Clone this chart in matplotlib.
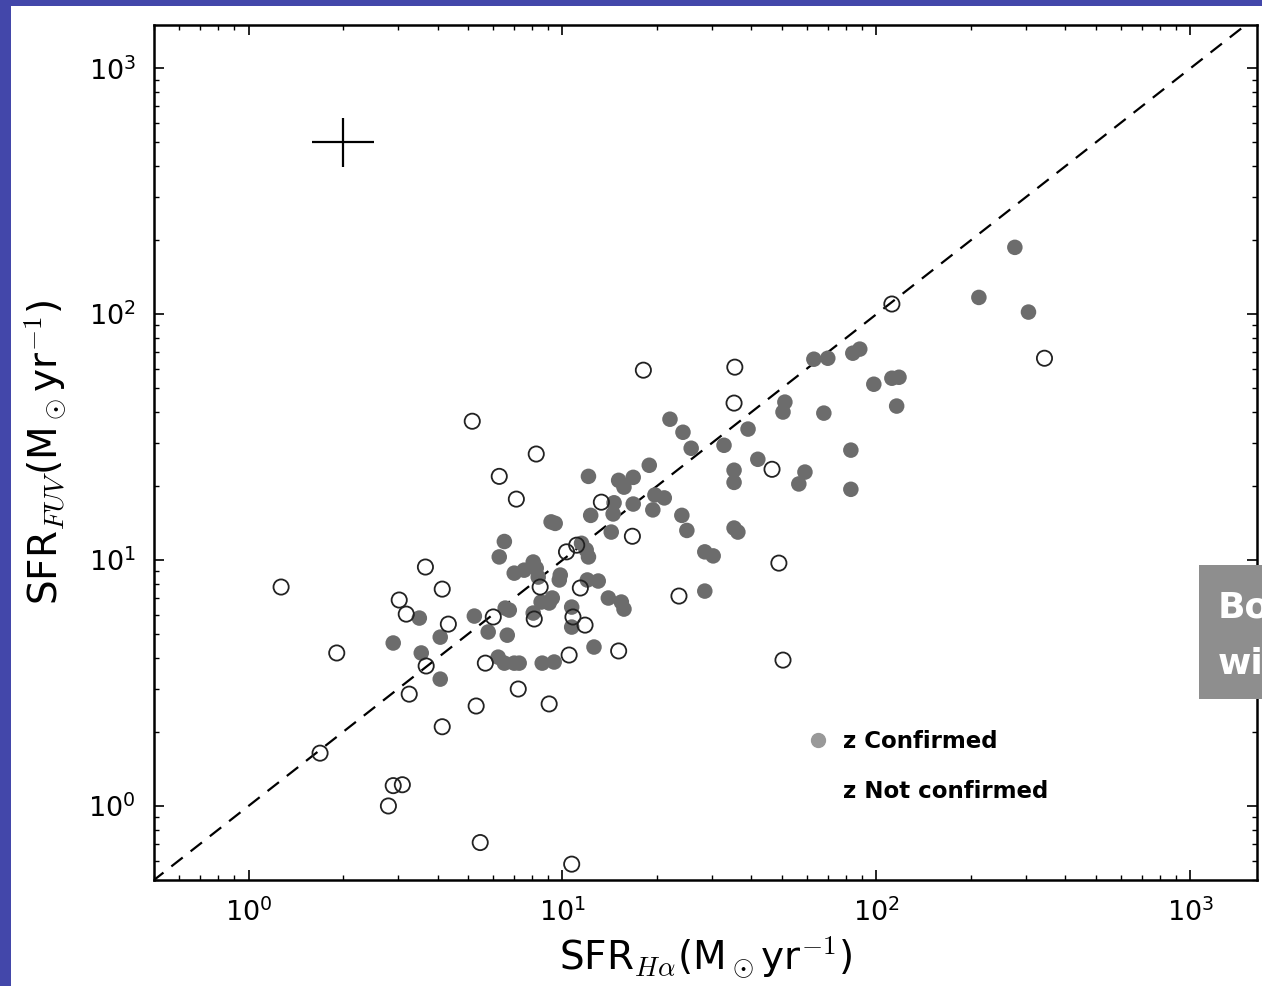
import matplotlib
matplotlib.use("Agg")
import matplotlib.pyplot as plt
from matplotlib.patches import Rectangle
from matplotlib.lines import Line2D

# SFR(H alpha) vs SFR(FUV)
# z confirmed (filled grey)
conf_x = [276, 212, 305, 63.2, 70.0, 84.1, 88.5, 98.1, 112, 118, 116, 51.1, 50.4, 68.0,
          39.0, 32.7, 22.0, 24.2, 25.7, 18.9, 41.9, 35.2, 35.2, 59.2, 56.6, 82.9, 82.9,
          15.1, 16.8, 15.7, 19.7, 21.1, 19.4, 16.8, 14.6, 14.5, 14.3, 24.0, 24.9, 35.2,
          36.2, 12.1, 12.3, 9.20, 9.48, 28.4, 30.2, 28.4, 6.53, 6.29, 11.5, 11.9, 12.1,
          8.07, 7.02, 7.55, 8.25, 8.37, 9.77, 9.84, 12.0, 13.0, 14.0, 15.4, 15.7, 9.28,
          8.55, 9.07, 8.07, 10.7, 10.7, 6.77, 5.24, 6.57, 5.80, 6.67, 4.08, 3.50, 2.89,
          3.55, 4.08, 6.24, 6.53, 7.02, 7.28, 8.62, 9.41, 12.6]
conf_y = [187, 117, 102, 65.6, 66.2, 69.4, 72.1, 51.9, 54.9, 55.4, 42.3, 43.9, 40.0, 39.6,
          34.1, 29.3, 37.4, 33.1, 28.5, 24.3, 25.7, 23.2, 20.7, 22.8, 20.4, 28.0, 19.4,
          21.1, 21.7, 19.8, 18.4, 17.9, 16.0, 16.9, 17.1, 15.4, 13.0, 15.2, 13.2, 13.5,
          13.0, 21.9, 15.2, 14.3, 14.1, 10.8, 10.4, 7.48, 11.9, 10.3, 11.7, 11.0, 10.3,
          9.82, 8.85, 9.10, 9.27, 8.53, 8.30, 8.69, 8.30, 8.22, 7.01, 6.75, 6.32, 7.01,
          6.75, 6.69, 6.09, 6.44, 5.34, 6.26, 5.92, 6.38, 5.10, 4.95, 4.86, 5.81, 4.60,
          4.19, 3.28, 4.03, 3.81, 3.81, 3.81, 3.81, 3.85, 4.43]

# z not confirmed (open circles)
notconf_x = [1.27, 1.91, 1.69, 3.02, 3.18, 3.66, 4.14, 4.33, 3.68, 3.25, 4.14, 2.89, 3.09,
             2.79, 5.47, 10.7, 5.31, 5.68, 7.23, 9.07, 5.16, 6.29, 7.13, 8.25, 18.1, 35.4,
             35.2, 112, 343, 46.5, 48.9, 50.4, 23.5, 13.3, 16.7, 10.3, 8.49, 11.4, 8.13,
             10.8, 11.8, 10.5, 15.1, 6.02, 11.1]
notconf_y = [7.77, 4.19, 1.64, 6.88, 6.03, 9.37, 7.62, 5.49, 3.71, 2.85, 2.10, 1.21, 1.22,
             1.00, 0.71, 0.58, 2.55, 3.81, 2.99, 2.60, 36.7, 21.9, 17.7, 27.0, 59.2, 60.9,
             43.5, 110, 66.2, 23.4, 9.72, 3.92, 7.14, 17.2, 12.5, 10.8, 7.77, 7.70, 5.76,
             5.87, 5.44, 4.11, 4.27, 5.87, 11.5]

# typical error bar (0.1 dex)
err_x, err_y, err_dex = 2.0, 500.0, 0.1

one_to_one = [0.1, 1e4]

BLUE = "#4347aa"
GREY = "#6c6c6c"

plt.rcParams["mathtext.fontset"] = "cm"

fig = plt.figure(figsize=(12.62, 9.86), dpi=100, facecolor=BLUE)
# white slide area, behind everything else
fig.patches.append(Rectangle((11 / 1262, 0), 1, 1 - 6 / 986, transform=fig.transFigure,
                             facecolor="white", edgecolor="none", zorder=-10))

ax = fig.add_axes([154 / 1262, 1 - 880 / 986, 1103 / 1262, 855 / 986])
ax.set_xscale("log")
ax.set_yscale("log")

ax.plot(one_to_one, one_to_one, color="black", lw=1.6, dashes=(6.5, 4.5), zorder=1)
ax.scatter(conf_x, conf_y, s=125, color=GREY, edgecolors="none", zorder=2)
ax.scatter(notconf_x, notconf_y, s=120, facecolors="none", edgecolors="#222222",
           linewidths=1.3, zorder=3)

f = 10 ** err_dex
ax.errorbar([err_x], [err_y], xerr=[[err_x - err_x / f], [err_x * f - err_x]],
            yerr=[[err_y - err_y / f], [err_y * f - err_y]], fmt="none",
            ecolor="black", elinewidth=1.6, capsize=0)

ax.set_xlim(0.5, 1630)
ax.set_ylim(0.5, 1500)

for s in ax.spines.values():
    s.set_linewidth(1.8)
ax.tick_params(which="both", direction="in", top=True, right=True)
ax.tick_params(which="major", length=7, width=1.2, labelsize=19.5, pad=13)
ax.tick_params(which="minor", length=3.5, width=1.0)

ax.set_xlabel(r"SFR$_{H\alpha}$(M$_\odot$yr$^{-1}$)", fontsize=28, labelpad=6)
ax.set_ylabel(r"SFR$_{FUV}$(M$_\odot$yr$^{-1}$)", fontsize=28, labelpad=15)

# hand-made legend
fig.add_artist(Line2D([818 / 1262], [1 - 740 / 986], marker="o", ms=10, ls="",
                      color="#999999", transform=fig.transFigure))
fig.text(843 / 1262, 1 - 742 / 986, "z Confirmed", fontsize=16.5, fontweight="bold",
         va="center", ha="left")
fig.text(843 / 1262, 1 - 791 / 986, "z Not confirmed", fontsize=16.5, fontweight="bold",
         va="center", ha="left")

# grey box cut off at the right edge of the slide
fig.patches.append(Rectangle((1199 / 1262, 1 - 699 / 986), 63 / 1262, 134 / 986,
                             transform=fig.transFigure, facecolor="#8e8e8e",
                             edgecolor="none", zorder=5))
fig.text(1218 / 1262, 1 - 607 / 986, "Bo", fontsize=26, fontweight="bold", color="white",
         va="center", ha="left", zorder=6)
fig.text(1218 / 1262, 1 - 664 / 986, "wi", fontsize=26, fontweight="bold", color="white",
         va="center", ha="left", zorder=6)

fig.savefig("out.png", dpi=100, facecolor=BLUE)
